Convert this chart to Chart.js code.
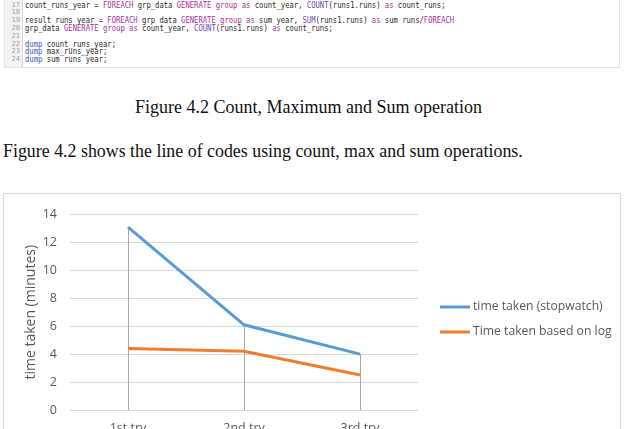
<!DOCTYPE html>
<html>
<head>
<meta charset="utf-8">
<script src="https://cdn.jsdelivr.net/npm/chart.js@4.4.1/dist/chart.umd.min.js"></script>
<style>
  html, body { margin:0; padding:0; background:#fff; width:627px; height:429px; overflow:hidden; }
  #code { position:absolute; left:4px; top:0; width:616px; height:68px; border:1px solid #e4e4e4; border-top:none; box-sizing:border-box; background:#fff; overflow:hidden; }
  #gutter { position:absolute; left:0; top:0; width:17px; height:100%; background:#f3f3f3; border-right:1px solid #d8d8d8; }
  .ln { position:absolute; left:0; width:15px; text-align:right; font:7px "DejaVu Sans Mono", monospace; color:#a0a0a0; }
  .cl { position:absolute; left:20px; font:9px "DejaVu Sans Mono", monospace; color:#2a2a2a; white-space:pre; transform:scaleX(0.8); transform-origin:0 0; }
  .k { color:#a8309a; }
  .f { color:#6a4ab0; }
  .d { color:#3a5ab8; }
  .txt { position:absolute; font-family:"Liberation Serif","Times New Roman",serif; color:#111; white-space:nowrap; }
  #chartBox { position:absolute; left:3px; top:193px; width:618px; height:260px; border:1px solid #d9d9d9; box-sizing:border-box; background:#fff; }
  #cw { position:absolute; left:0; top:0; width:616px; height:258px; }
</style>
</head>
<body>
<div id="code"><div id="gutter"></div></div>
<div id="cap" class="txt">Figure 4.2 Count, Maximum and Sum operation</div>
<div id="para" class="txt">Figure 4.2 shows the line of codes using count, max and sum operations.</div>
<div id="chartBox"><div id="cw"><canvas id="c"></canvas></div></div>
<script>
// ---- data ----
const categories = ['1st try', '2nd try', '3rd try'];
const stopwatchTimes = [13.1, 6.1, 4.0];
const logTimes = [4.4, 4.2, 2.5];
const seriesLabels = ['time taken (stopwatch)', 'Time taken based on log'];
const yTicks = [0, 2, 4, 6, 8, 10, 12, 14];
const yTitle = 'time taken (minutes)';

// ---- code listing ----
const codeLines = [
  [17, '<span>count_runs_year = </span><span class="k">FOREACH</span> grp_data <span class="k">GENERATE</span> <span class="k">group</span> <span class="k">as</span> count_year, <span class="f">COUNT</span>(runs1.runs) <span class="k">as</span> count_runs;'],
  [18, ''],
  [19, 'result runs year = <span class="k">FOREACH</span> grp data <span class="k">GENERATE</span> <span class="k">group</span> <span class="k">as</span> sum year, <span class="f">SUM</span>(runs1.runs) <span class="k">as</span> sum runs/<span class="k">FOREACH</span>'],
  [20, 'grp_data <span class="k">GENERATE</span> <span class="k">group</span> <span class="k">as</span> count_year, <span class="f">COUNT</span>(runs1.runs) <span class="k">as</span> count_runs;'],
  [21, ''],
  [22, '<span class="d">dump</span> count_runs_year;'],
  [23, '<span class="d">dump</span> max_runs_year;'],
  [24, '<span class="d">dump</span> sum runs year;']
];
const codeEl = document.getElementById('code');
codeLines.forEach((l, i) => {
  const y = -0.5 + i * 7.8;
  const n = document.createElement('div');
  n.className = 'ln'; n.style.top = (y + 1) + 'px'; n.textContent = l[0];
  codeEl.appendChild(n);
  const c = document.createElement('div');
  c.className = 'cl'; c.style.top = y + 'px'; c.innerHTML = l[1];
  codeEl.appendChild(c);
});

// ---- caption & paragraph fitted to width ----
function fitText(el, left, right, baseline, size) {
  el.style.fontSize = size + 'px';
  el.style.left = left + 'px';
  const w = el.getBoundingClientRect().width;
  const s = size * (right - left) / w;
  el.style.fontSize = s + 'px';
  el.style.lineHeight = '1';
  el.style.top = (baseline - s * 0.86) + 'px';
}
fitText(document.getElementById('cap'), 135, 482, 113, 18);
fitText(document.getElementById('para'), 3, 523, 158, 18);

// ---- chart ----
const grey = '#595959';
const dropLines = {
  id: 'dropLines',
  beforeDatasetsDraw(chart) {
    const {ctx, scales: {x, y}} = chart;
    ctx.save();
    ctx.strokeStyle = '#a9a9a9';
    ctx.lineWidth = 1;
    categories.forEach((c, i) => {
      const top = Math.max(...chart.data.datasets.map(d => d.data[i]));
      const px = Math.round(x.getPixelForValue(i)) + 0.5;
      ctx.beginPath();
      ctx.moveTo(px, y.getPixelForValue(top));
      ctx.lineTo(px, y.getPixelForValue(0));
      ctx.stroke();
    });
    ctx.restore();
  }
};
const legendPlugin = {
  id: 'sideLegend',
  afterDraw(chart) {
    const ctx = chart.ctx;
    ctx.save();
    ctx.font = '12.2px "Open Sans", sans-serif';
    ctx.textBaseline = 'middle';
    chart.data.datasets.forEach((d, i) => {
      const yy = 113 + i * 25;
      ctx.strokeStyle = d.borderColor;
      ctx.lineWidth = 3;
      ctx.beginPath();
      ctx.moveTo(436, yy);
      ctx.lineTo(466, yy);
      ctx.stroke();
      ctx.fillStyle = grey;
      ctx.fillText(d.label, 469, yy);
    });
    ctx.restore();
  }
};

new Chart(document.getElementById('c'), {
  type: 'line',
  data: {
    labels: categories,
    datasets: [
      { label: seriesLabels[0], data: stopwatchTimes, borderColor: '#5b9bd5', backgroundColor: '#5b9bd5', borderWidth: 3, pointRadius: 0, tension: 0 },
      { label: seriesLabels[1], data: logTimes, borderColor: '#ed7d31', backgroundColor: '#ed7d31', borderWidth: 3, pointRadius: 0, tension: 0 }
    ]
  },
  options: {
    responsive: true,
    maintainAspectRatio: false,
    animation: false,
    layout: { padding: { top: 16, right: 202, left: 0, bottom: 0 } },
    plugins: { legend: { display: false }, tooltip: { enabled: false } },
    scales: {
      x: {
        offset: true,
        grid: { display: false, drawTicks: false },
        border: { display: false },
        ticks: { color: grey, padding: 11, font: { family: '"Open Sans", sans-serif', size: 12.5 } },
        afterFit(s) { s.height = 42; }
      },
      y: {
        min: 0, max: 14,
        afterBuildTicks(s) { s.ticks = yTicks.map(v => ({ value: v })); },
        grid: { color: '#d9d9d9', drawTicks: false },
        border: { display: false },
        ticks: { color: grey, padding: 13, font: { family: '"Open Sans", sans-serif', size: 12.5 } },
        title: { display: true, text: yTitle, color: grey, padding: { top: 19, bottom: 0 }, font: { family: '"Open Sans", sans-serif', size: 14 } },
        afterFit(s) { s.width = 66; }
      }
    }
  },
  plugins: [dropLines, legendPlugin]
});
</script>
</body>
</html>
